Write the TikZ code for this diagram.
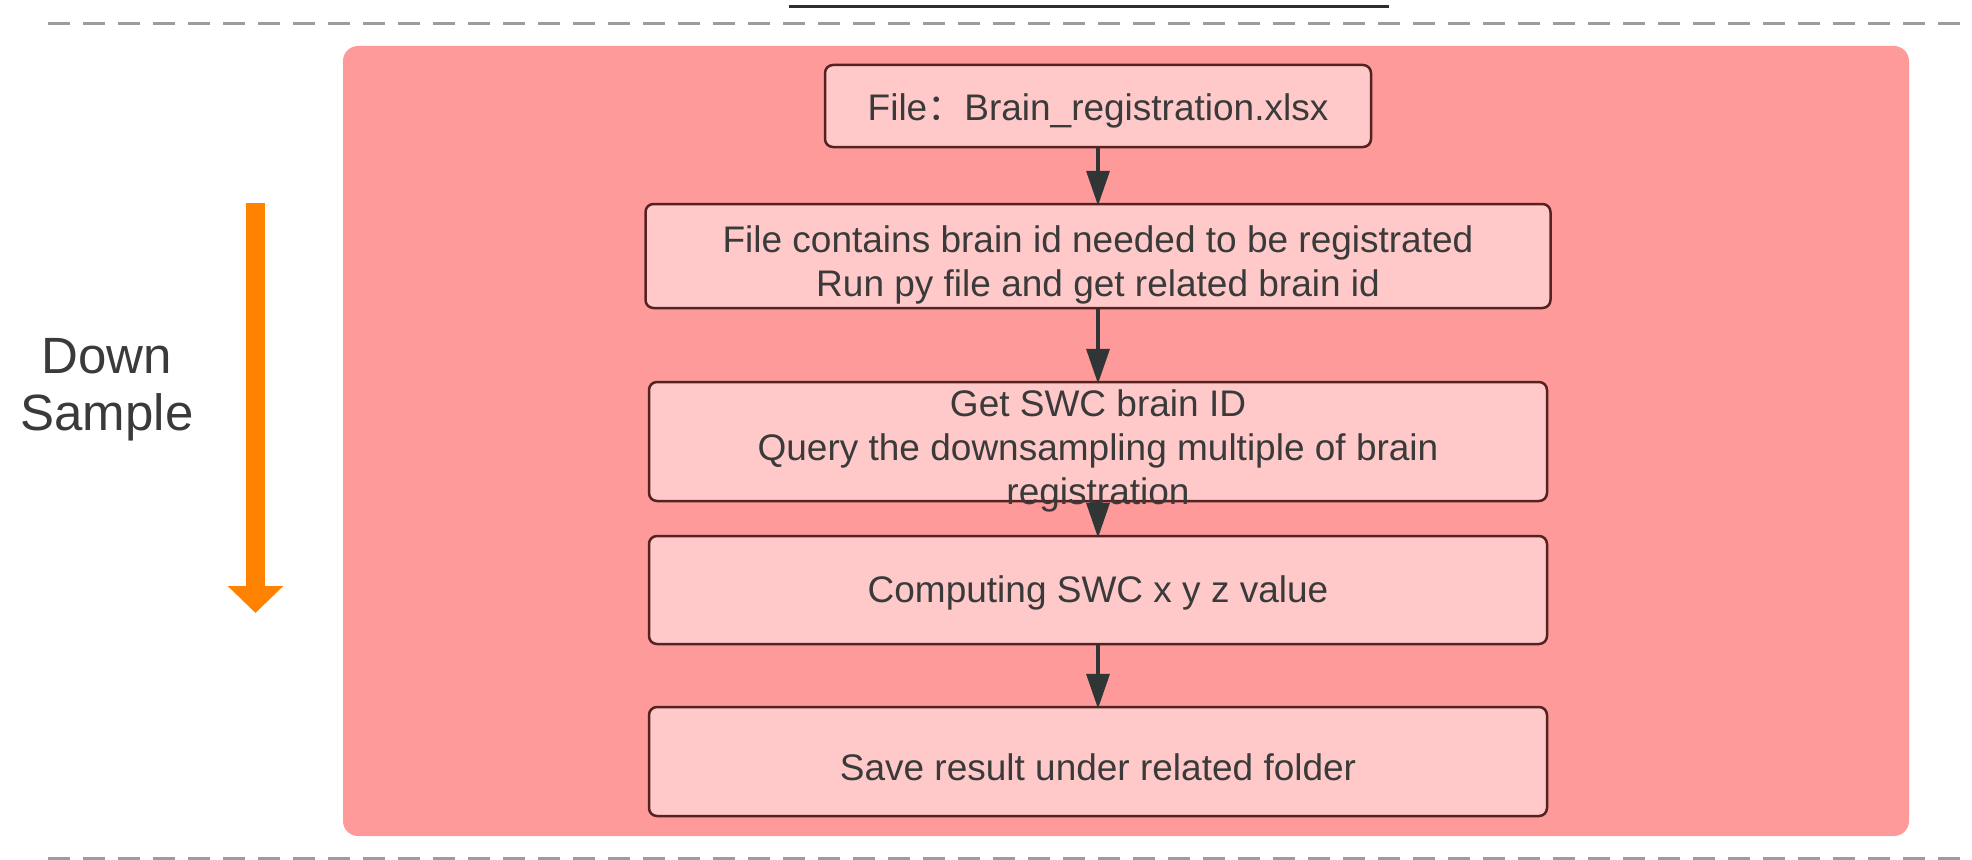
\documentclass[tikz,border=0pt]{standalone}
\usepackage{fontspec}
\setmainfont{Liberation Sans}
\newfontfamily\cjk{Noto Sans CJK SC}
\usetikzlibrary{arrows.meta}

\definecolor{panelpink}{HTML}{FF9A9A}
\definecolor{boxpink}{HTML}{FFC9C9}
\definecolor{boxedge}{HTML}{552222}
\definecolor{inkgray}{HTML}{3A3A3A}
\definecolor{dashgray}{HTML}{9C9C9C}
\definecolor{flowarrow}{HTML}{303636}
\definecolor{dsorange}{HTML}{FF8200}
\definecolor{rulegray}{HTML}{2E2E2E}

\begin{document}
\begin{tikzpicture}[x=1pt,y=-1pt,
  panel/.style={fill=panelpink, rounded corners=15pt, inner sep=0pt},
  stepbox/.style={draw=boxedge, line width=2.5pt, fill=boxpink,
                  rounded corners=8pt, inner sep=0pt},
  boxtext/.style={text=inkgray, font=\fontsize{37}{44}\selectfont,
                  align=center, inner sep=0pt},
  flow/.style={draw=flowarrow, line width=3.5pt,
               -{Triangle[length=35pt,width=23pt]}, shorten >=-3pt},
  sepline/.style={draw=dashgray, line width=3pt, dash pattern=on 22pt off 13pt},
  sidelabel/.style={text=inkgray, font=\fontsize{51}{57}\selectfont,
                    align=center, inner sep=0pt},
]
\useasboundingbox (0,0) rectangle (1972,859);

% header rule and separators
\coordinate (ruleL) at (789,7);
\coordinate (ruleR) at (1389,7);
\draw[rulegray, line width=3pt] (ruleL) -- (ruleR);

\coordinate (topL) at (48,24);
\coordinate (topR) at (1972,24);
\draw[sepline] (topL) -- (topR);

\coordinate (botL) at (48,858);
\coordinate (botR) at (1972,858);
\draw[sepline] (botL) -- (botR);

% pink panel holding the flow
\node[panel, minimum width=1566pt, minimum height=790pt] (panel) at (1126,441) {};

% flow steps
\node[stepbox, minimum width=546pt, minimum height=82pt] (b1) at (1098,106) {};
\node[boxtext] (t1) at (1098,111) {File{\cjk ：}Brain\_registration.xlsx};

\node[stepbox, minimum width=905pt, minimum height=104pt] (b2) at (1098,256) {};
\node[boxtext] (t2) at (1098,265)
  {File contains brain id needed to be registrated\\Run py file and get related brain id};

\node[stepbox, minimum width=898pt, minimum height=119pt] (b3) at (1098,441.5) {};
\node[boxtext] (t3) at (1098,451)
  {Get SWC brain ID\\Query the downsampling multiple of brain\\registration};

\node[stepbox, minimum width=898pt, minimum height=108pt] (b4) at (1098,590) {};
\node[boxtext] (t4) at (1098,593) {Computing SWC x y z value};

\node[stepbox, minimum width=898pt, minimum height=109pt] (b5) at (1098,761.5) {};
\node[boxtext] (t5) at (1098,767) {Save result under related folder};

% connectors
\draw[flow] (b1.south) -- (b2.north);
\draw[flow] (b2.south) -- (b3.north);
\draw[flow] (b3.south) -- (b4.north);
\draw[flow] (b4.south) -- (b5.north);

% down-sample indicator
\coordinate (dsTop) at (255.5,203);
\coordinate (dsBot) at (255.5,613);
\draw[dsorange, line width=19pt, -{Triangle[length=27pt,width=54pt]}] (dsTop) -- (dsBot);
\node[sidelabel] (ds) at (107,390) {Down\\Sample};

\end{tikzpicture}
\end{document}
